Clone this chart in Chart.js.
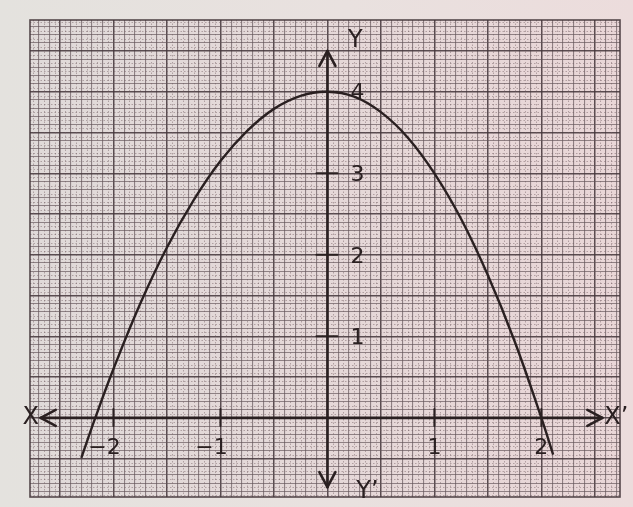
<!DOCTYPE html>
<html>
<head>
<meta charset="utf-8">
<script src="https://cdn.jsdelivr.net/npm/chart.js@4.4.0/dist/chart.umd.min.js"></script>
<style>
  html, body { margin: 0; padding: 0; }
  body { width: 633px; height: 507px; background: linear-gradient(90deg, #e4e2de 0%, #e9e1df 55%, #ecdcdc 100%); }
  #c { display: block; }
</style>
</head>
<body>
<canvas id="c" width="633" height="507"></canvas>
<script>
// Hand-drawn parabola y = 4 − x²
const curveX = [-2.30, -2.17, -2.00, -1.75, -1.50, -1.25, -1.00, -0.75, -0.50, -0.25, 0.00, 0.25, 0.50, 0.75, 1.00, 1.25, 1.50, 1.75, 2.00, 2.11];
const curveY = [-0.49, 0.00, 0.60, 1.40, 2.09, 2.67, 3.15, 3.52, 3.79, 3.95, 4.00, 3.94, 3.75, 3.44, 3.00, 2.44, 1.75, 0.94, 0.00, -0.45];

// Axis marks and their labels
const xTickValues = [-2, -1, 1, 2];
const xTickLabels = ['−2', '−1', '1', '2'];
const yTickValues = [1, 2, 3, 4];
const yTickLabels = ['1', '2', '3', '4'];

// Extent of the graph paper and of the drawn axes (in graph units)
const paperX = [-2.78, 2.735];
const paperY = [-0.97, 4.88];
const xAxisSpan = [-2.68, 2.57];
const yAxisSpan = [-0.85, 4.5];

const INK = '#2a2021';

function gridValues(min, max, step) {
  const out = [];
  for (let k = Math.ceil(min / step - 1e-9); k * step <= max + 1e-9; k++) {
    out.push({ value: +(k * step).toFixed(4) });
  }
  return out;
}

function majorColor(c) {
  const v = c.tick ? c.tick.value : 0;
  const k = Math.round(v * 10);
  return k % 5 === 0 ? 'rgba(70,56,60,0.88)' : 'rgba(100,86,90,0.68)';
}
function majorWidth(c) {
  const v = c.tick ? c.tick.value : 0;
  const k = Math.round(v * 10);
  return k % 5 === 0 ? 1.5 : 1.1;
}

// Paper tint, dotted half-lines, paper edge, axes and their labels
const paperPlugin = {
  id: 'paper',
  beforeDraw(chart) {
    const { ctx, chartArea: a } = chart;
    const g = ctx.createLinearGradient(a.left, 0, a.right, 0);
    g.addColorStop(0, '#e0dad9');
    g.addColorStop(0.5, '#e5d8d8');
    g.addColorStop(1, '#e9d6d7');
    ctx.save();
    ctx.fillStyle = g;
    ctx.fillRect(a.left, a.top, a.right - a.left, a.bottom - a.top);
    ctx.restore();
  },
  beforeDatasetsDraw(chart) {
    const { ctx, chartArea: a, scales: { x, y } } = chart;
    ctx.save();
    ctx.setLineDash([1.5, 2]);
    ctx.strokeStyle = 'rgba(110,92,96,0.45)';
    ctx.lineWidth = 1;
    gridValues(paperX[0], paperX[1], 0.05).forEach(t => {
      if (Math.round(t.value * 20) % 2 === 0) return;
      const px = Math.round(x.getPixelForValue(t.value)) + 0.5;
      ctx.beginPath(); ctx.moveTo(px, a.top); ctx.lineTo(px, a.bottom); ctx.stroke();
    });
    gridValues(paperY[0], paperY[1], 0.05).forEach(t => {
      if (Math.round(t.value * 20) % 2 === 0) return;
      const py = Math.round(y.getPixelForValue(t.value)) + 0.5;
      ctx.beginPath(); ctx.moveTo(a.left, py); ctx.lineTo(a.right, py); ctx.stroke();
    });
    ctx.setLineDash([]);
    ctx.strokeStyle = 'rgba(70,56,60,0.9)';
    ctx.lineWidth = 1.6;
    ctx.strokeRect(a.left, a.top, a.right - a.left, a.bottom - a.top);

    // Axes X'X and Y'Y with arrow heads
    ctx.strokeStyle = INK;
    ctx.lineCap = 'round';
    ctx.lineJoin = 'round';
    ctx.lineWidth = 2.6;
    const x0 = x.getPixelForValue(0), y0 = y.getPixelForValue(0);
    const xl = x.getPixelForValue(xAxisSpan[0]), xr = x.getPixelForValue(xAxisSpan[1]);
    const yb = y.getPixelForValue(yAxisSpan[0]), yt = y.getPixelForValue(yAxisSpan[1]);
    ctx.beginPath(); ctx.moveTo(xl, y0); ctx.lineTo(xr, y0); ctx.stroke();
    ctx.beginPath(); ctx.moveTo(x0, yb); ctx.lineTo(x0, yt); ctx.stroke();
    const arrow = (tx, ty, dx, dy) => {
      const nx = -dy, ny = dx;
      ctx.beginPath();
      ctx.moveTo(tx - dx * 15 + nx * 8, ty - dy * 15 + ny * 8);
      ctx.lineTo(tx, ty);
      ctx.lineTo(tx - dx * 15 - nx * 8, ty - dy * 15 - ny * 8);
      ctx.stroke();
    };
    arrow(xl, y0, -1, 0);
    arrow(xr, y0, 1, 0);
    arrow(x0, yt, 0, -1);
    arrow(x0, yb, 0, 1);

    // Small tick marks
    ctx.lineWidth = 2;
    xTickValues.forEach(v => {
      const px = x.getPixelForValue(v);
      ctx.beginPath(); ctx.moveTo(px, y0 - 9); ctx.lineTo(px, y0 + 8); ctx.stroke();
    });
    yTickValues.forEach(v => {
      const py = y.getPixelForValue(v);
      ctx.beginPath(); ctx.moveTo(x0 - 11, py); ctx.lineTo(x0 + 10, py); ctx.stroke();
    });
    ctx.restore();
  },
  afterDatasetsDraw(chart) {
    const { ctx, scales: { x, y } } = chart;
    const x0 = x.getPixelForValue(0), y0 = y.getPixelForValue(0);
    ctx.save();
    ctx.fillStyle = INK;
    ctx.textBaseline = 'middle';
    ctx.textAlign = 'center';
    ctx.font = '22px "DejaVu Sans", sans-serif';
    xTickValues.forEach((v, i) => {
      const shift = v < 0 ? -9 : 0;
      ctx.fillText(xTickLabels[i], x.getPixelForValue(v) + shift, y0 + 30);
    });
    yTickValues.forEach((v, i) => {
      ctx.fillText(yTickLabels[i], x0 + 30, y.getPixelForValue(v) + 2);
    });
    ctx.font = '24px "DejaVu Sans", sans-serif';
    ctx.fillText('X', x.getPixelForValue(xAxisSpan[0]) - 10, y0);
    ctx.fillText('X\u2019', x.getPixelForValue(xAxisSpan[1]) + 14, y0);
    ctx.fillText('Y', x0 + 28, y.getPixelForValue(yAxisSpan[1]) - 10);
    ctx.fillText('Y\u2019', x0 + 40, y.getPixelForValue(yAxisSpan[0]) + 5);
    ctx.restore();
  }
};

new Chart(document.getElementById('c'), {
  type: 'scatter',
  data: {
    datasets: [{
      data: curveX.map((v, i) => ({ x: v, y: curveY[i] })),
      showLine: true,
      borderColor: INK,
      borderWidth: 2.4,
      pointRadius: 0,
      tension: 0.4,
      fill: false
    }]
  },
  options: {
    responsive: false,
    animation: false,
    devicePixelRatio: 1,
    layout: { padding: { left: 30, right: 13, top: 20, bottom: 10 } },
    plugins: { legend: { display: false }, tooltip: { enabled: false } },
    scales: {
      x: {
        type: 'linear',
        min: paperX[0], max: paperX[1],
        afterBuildTicks: s => { s.ticks = gridValues(paperX[0], paperX[1], 0.1); },
        ticks: { display: false },
        grid: { color: majorColor, lineWidth: majorWidth, drawTicks: false },
        border: { display: false }
      },
      y: {
        type: 'linear',
        min: paperY[0], max: paperY[1],
        afterBuildTicks: s => { s.ticks = gridValues(paperY[0], paperY[1], 0.1); },
        ticks: { display: false },
        grid: { color: majorColor, lineWidth: majorWidth, drawTicks: false },
        border: { display: false }
      }
    }
  },
  plugins: [paperPlugin]
});
</script>
</body>
</html>
